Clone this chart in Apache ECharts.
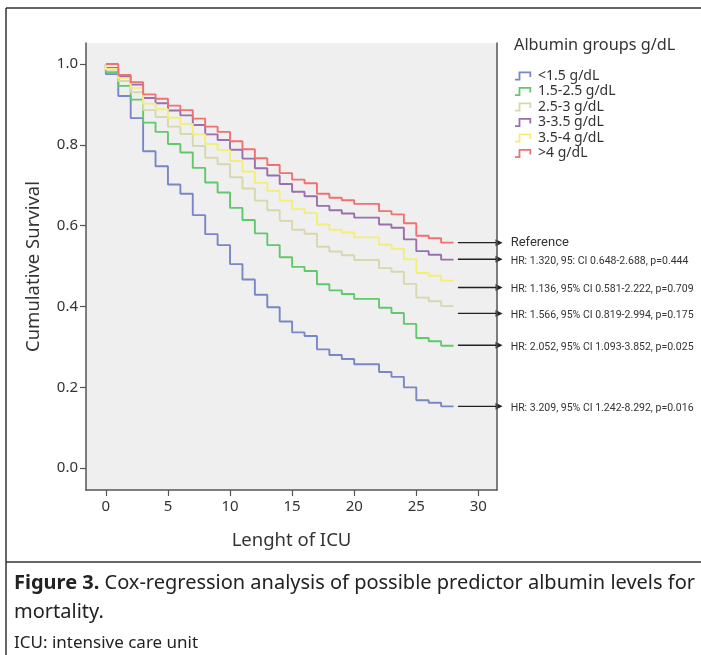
<!DOCTYPE html>
<html><head><meta charset="utf-8">
<script src="https://cdn.jsdelivr.net/npm/echarts@6/dist/echarts.min.js"></script>
<style>html,body{margin:0;padding:0;background:#fff}#c{width:701px;height:655px}</style>
</head><body><div id="c"></div>
<script>
// ---- data ----
const days = [0,1,2,3,4,5,6,7,8,9,10,11,12,13,14,15,16,17,18,19,20,21,22,23,24,25,26,27,28];
const groupNames = ['<1.5 g/dL','1.5-2.5 g/dL','2.5-3 g/dL','3-3.5 g/dL','3.5-4 g/dL','>4 g/dL'];
const survLt15  = [0.975,0.921,0.866,0.784,0.747,0.702,0.679,0.626,0.579,0.552,0.505,0.467,0.429,0.398,0.363,0.336,0.327,0.294,0.280,0.270,0.257,0.257,0.238,0.226,0.200,0.168,0.162,0.153,0.153];
const surv15_25 = [0.980,0.946,0.912,0.855,0.832,0.802,0.781,0.743,0.707,0.682,0.644,0.614,0.581,0.552,0.522,0.498,0.488,0.455,0.440,0.431,0.419,0.419,0.397,0.384,0.357,0.322,0.314,0.303,0.303];
const surv25_3  = [0.986,0.958,0.930,0.886,0.869,0.845,0.827,0.797,0.768,0.752,0.720,0.692,0.662,0.638,0.612,0.590,0.580,0.548,0.536,0.527,0.515,0.515,0.495,0.486,0.456,0.422,0.413,0.401,0.401];
const surv3_35  = [0.990,0.969,0.949,0.916,0.903,0.885,0.873,0.849,0.826,0.812,0.788,0.766,0.742,0.724,0.703,0.684,0.673,0.649,0.638,0.630,0.620,0.620,0.603,0.595,0.566,0.537,0.528,0.516,0.516];
const surv35_4  = [0.988,0.965,0.941,0.902,0.888,0.867,0.852,0.826,0.802,0.787,0.760,0.734,0.706,0.686,0.662,0.641,0.631,0.603,0.590,0.583,0.571,0.571,0.553,0.543,0.517,0.483,0.476,0.464,0.464];
const survGt4   = [1.000,0.973,0.955,0.925,0.914,0.897,0.886,0.865,0.845,0.832,0.809,0.789,0.767,0.750,0.730,0.714,0.705,0.679,0.669,0.663,0.654,0.654,0.636,0.628,0.606,0.575,0.569,0.558,0.558];
const xTicks = [0,5,10,15,20,25,30];
const yTicks = [0.0,0.2,0.4,0.6,0.8,1.0];
const annoLabels = ['Reference','HR: 1.320, 95: CI 0.648-2.688, p=0.444','HR: 1.136, 95% CI 0.581-2.222, p=0.709','HR: 1.566, 95% CI 0.819-2.994, p=0.175','HR: 2.052, 95% CI 1.093-3.852, p=0.025','HR: 3.209, 95% CI 1.242-8.292, p=0.016'];
const annoValues = [0.558,0.517,0.447,0.383,0.304,0.153];
const captionBold = 'Figure 3.';
const captionLine1 = 'Cox-regression analysis of possible predictor albumin levels for';
const captionLine2 = 'mortality.';
const captionNote = 'ICU: intensive care unit';

// ---- styling ----
const FONT = 'Noto Sans';
const colors = ['#7a87c6','#62c86c','#d8d8ae','#9a6fae','#f3ee78','#ee7272'];
const allSurv = [survLt15, surv15_25, surv25_3, surv3_35, surv35_4, survGt4];
const stepIcon = 'path://M0,8 L4,8 L4,0 L18,0 L18,6 L16,6 L16,2 L6,2 L6,10 L0,10 Z';
const XMIN = -1.6, XMAX = 31.5, YMIN = -0.054, YMAX = 1.052;

const chart = echarts.init(document.getElementById('c'), null, {renderer:'canvas'});
chart.setOption({
  animation:false,
  backgroundColor:'#ffffff',
  textStyle:{fontFamily:FONT},
  title:{text:'Albumin groups g/dL', left:514, top:37, padding:0,
    textStyle:{fontSize:16.3, fontWeight:'normal', color:'#333', fontFamily:FONT}},
  legend:{orient:'vertical', left:515, top:69, padding:0, itemWidth:20, itemHeight:9, itemGap:1.5,
    icon:stepIcon, data:groupNames,
    textStyle:{fontSize:14, color:'#333', lineHeight:14, fontFamily:FONT}},
  grid:{left:86, top:43, width:411, height:447, show:true, backgroundColor:'#efefef', borderWidth:0},
  xAxis:{type:'value', min:XMIN, max:XMAX,
    axisLine:{show:true, onZero:false, lineStyle:{color:'#555', width:1.5}},
    axisTick:{show:true, customValues:xTicks, length:6, lineStyle:{color:'#555', width:1.2}},
    axisLabel:{customValues:xTicks, fontSize:15, color:'#333', margin:9, fontFamily:FONT},
    splitLine:{show:false},
    name:'Lenght of ICU', nameLocation:'middle', nameGap:41,
    nameTextStyle:{fontSize:18.5, color:'#333', fontFamily:FONT}},
  yAxis:[{type:'value', min:YMIN, max:YMAX,
    axisLine:{show:true, onZero:false, lineStyle:{color:'#555', width:1.5}},
    axisTick:{show:true, customValues:yTicks, length:6, lineStyle:{color:'#555', width:1.2}},
    axisLabel:{customValues:yTicks, formatter:v=>Number(v).toFixed(1), fontSize:15, color:'#333', margin:8, fontFamily:FONT},
    splitLine:{show:false},
    name:'Cumulative Survival', nameLocation:'middle', nameGap:43,
    nameTextStyle:{fontSize:18.5, color:'#333', fontFamily:FONT}},
   {type:'value', position:'right', min:YMIN, max:YMAX,
    axisLine:{show:true, onZero:false, lineStyle:{color:'#555', width:1.5}},
    axisTick:{show:false}, axisLabel:{show:false}, splitLine:{show:false}}],
  series: allSurv.map((vals,i)=>({
    name:groupNames[i], type:'line', step:'end', showSymbol:false, symbol:'none', silent:true,
    yAxisIndex:0,
    lineStyle:{width:1.9, color:colors[i]}, itemStyle:{color:colors[i]},
    data:[[days[0],1]].concat(days.map((d,k)=>[d, vals[k]]))
  }))
});

// ---- annotations, frame and caption ----
const g = [];
const px = (x,y)=>chart.convertToPixel({xAxisIndex:0,yAxisIndex:0},[x,y]);
annoValues.forEach((v,i)=>{
  const a = px(28.35, v), b = px(31.95, v), t = px(32.6, v);
  g.push({type:'line', silent:true, shape:{x1:a[0], y1:a[1], x2:b[0]-6, y2:b[1]}, style:{stroke:'#222', lineWidth:1.4}});
  g.push({type:'polygon', silent:true, shape:{points:[[b[0],b[1]],[b[0]-7,b[1]-3.5],[b[0]-7,b[1]+3.5]]}, style:{fill:'#222'}});
  g.push({type:'text', silent:true, style:{text:annoLabels[i], x:t[0], y:t[1]+ (i===0?0:2), verticalAlign:'middle',
    fill:'#333', font: (i===0 ? '13px ' : '10.5px ') + 'Roboto'}});
});
// outer frame
g.push({type:'line', silent:true, shape:{x1:6, y1:8, x2:701, y2:8}, style:{stroke:'#333', lineWidth:1.5}});
g.push({type:'line', silent:true, shape:{x1:6, y1:8, x2:6, y2:655}, style:{stroke:'#333', lineWidth:1.5}});
g.push({type:'line', silent:true, shape:{x1:6, y1:562, x2:701, y2:562}, style:{stroke:'#333', lineWidth:1.5}});
// caption, first line justified between x=14 and x=695
const CAP = 20;
const ctx = document.createElement('canvas').getContext('2d');
const words = [{t:captionBold, b:true}].concat(captionLine1.split(' ').map(w=>({t:w, b:false})));
const widths = words.map(w=>{ ctx.font = (w.b?'bold ':'') + CAP + 'px "' + FONT + '"'; return ctx.measureText(w.t).width; });
const total = widths.reduce((s,w)=>s+w,0);
const gap = Math.max(3, (695 - 14 - total) / (words.length - 1));
let cx = 14;
words.forEach((w,i)=>{
  g.push({type:'text', silent:true, style:{x:cx, y:583, verticalAlign:'middle', fill:'#222', text:w.t,
    font:(w.b?'bold ':'') + CAP + 'px "' + FONT + '"'}});
  cx += widths[i] + gap;
});
g.push({type:'text', silent:true, style:{x:14, y:612, verticalAlign:'middle', fill:'#222', text:captionLine2, font:CAP + 'px "' + FONT + '"'}});
g.push({type:'text', silent:true, style:{x:14, y:643, verticalAlign:'middle', fill:'#222', text:captionNote, font:'17px "' + FONT + '"'}});
chart.setOption({graphic:g});
</script></body></html>
